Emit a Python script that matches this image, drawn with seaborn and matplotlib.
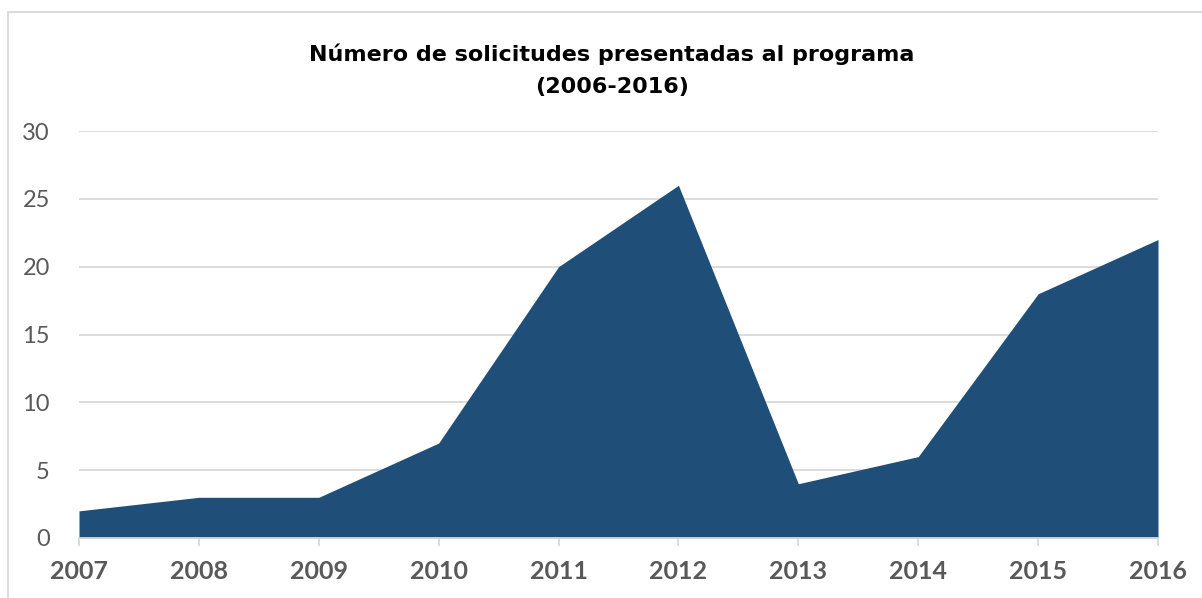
import matplotlib
matplotlib.use("Agg")
import matplotlib.pyplot as plt
import seaborn as sns
import pandas as pd
from matplotlib.lines import Line2D

years = [2007, 2008, 2009, 2010, 2011, 2012, 2013, 2014, 2015, 2016]
solicitudes = [2, 3, 3, 7, 20, 26, 4, 6, 18, 22]
y_ticks = [0, 5, 10, 15, 20, 25, 30]
title = "Número de solicitudes presentadas al programa\n(2006-2016)"

df = pd.DataFrame({"year": years, "n": solicitudes})

sns.set_theme(style="white")
plt.rcParams["font.family"] = ["Lato", "DejaVu Sans"]

W, H = 1202, 598
fig = plt.figure(figsize=(W / 100, H / 100), dpi=100)
ax = fig.add_axes([79 / W, 1 - 538 / H, (1158 - 79) / W, (538 - 131) / H])

color = "#1F4E79"
sns.lineplot(data=df, x="year", y="n", ax=ax, color=color, linewidth=0)
ax.fill_between(df["year"], 0, df["n"], color=color, linewidth=0, zorder=2)

ax.set_xlim(years[0], years[-1])
ax.set_ylim(0, 30)
ax.set_yticks(y_ticks)
ax.set_xticks(years)
ax.set_xticklabels([str(y) for y in years], fontsize=18, fontweight="bold", color="#595959")
ax.set_yticklabels([str(v) for v in y_ticks], fontsize=17, color="#595959")
ax.set_xlabel("")
ax.set_ylabel("")

ax.grid(axis="y", color="#D9D9D9", linewidth=1.3, zorder=0)
ax.set_axisbelow(True)
for s in ["left", "right", "top"]:
    ax.spines[s].set_visible(False)
ax.spines["bottom"].set_color("#D9D9D9")
ax.spines["bottom"].set_linewidth(1.3)
ax.spines["bottom"].set_zorder(3)
ax.tick_params(axis="x", which="both", bottom=True, length=6, width=1.3, color="#D9D9D9", pad=10)
ax.tick_params(axis="y", which="both", left=False, pad=15)

fig.text(612 / W, 1 - 70 / H, title, ha="center", va="center", fontsize=16,
         fontweight="bold", color="#000000", linespacing=1.75,
         family=["DejaVu Sans"])

# outer chart border (light grey)
fig.add_artist(Line2D([8 / W, 8 / W], [0, 1 - 12 / H], transform=fig.transFigure,
                      color="#D9D9D9", linewidth=1.3))
fig.add_artist(Line2D([8 / W, 1], [1 - 12 / H, 1 - 12 / H], transform=fig.transFigure,
                      color="#D9D9D9", linewidth=1.3))

fig.savefig("out.png", dpi=100, facecolor="white")
